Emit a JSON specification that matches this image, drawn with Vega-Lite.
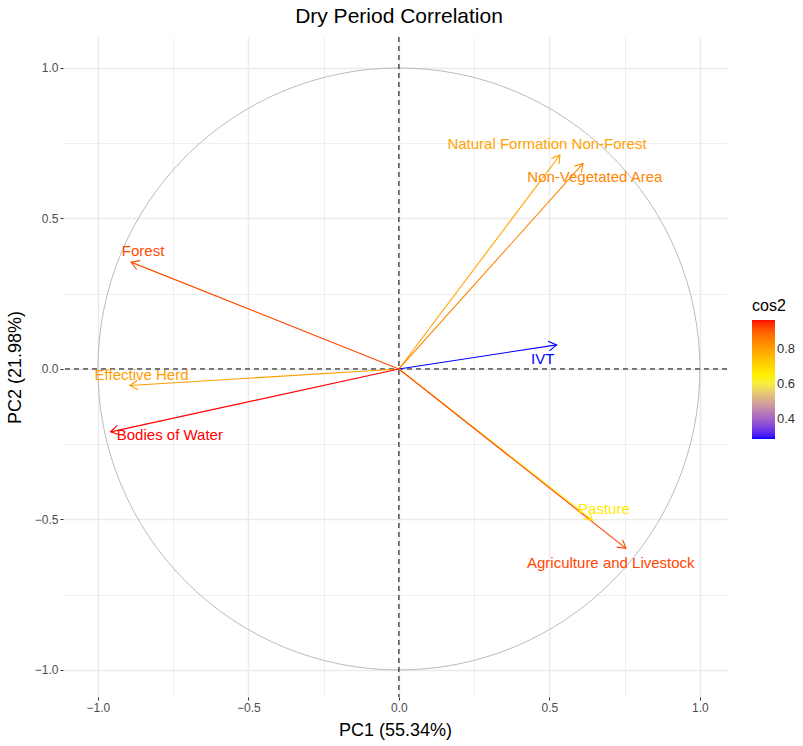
{
  "$schema": "https://vega.github.io/schema/vega-lite/v6.json",
  "autosize": "none",
  "width": 664,
  "height": 660,
  "padding": {"left": 63, "top": 37, "right": 76, "bottom": 49},
  "background": "white",
  "title": {"text": "Dry Period Correlation", "fontSize": 21, "font": "Liberation Sans", "fontWeight": "normal", "color": "black", "anchor": "middle", "offset": 10, "dx": 4},
  "config": {
    "view": {"stroke": null},
    "font": "Liberation Sans",
    "legend": {
      "orient": "none", "legendX": 689, "legendY": 261,
      "gradientLength": 119, "gradientThickness": 23, "gradientStrokeWidth": 0,
      "titleFontSize": 16, "titleFontWeight": "normal", "titleColor": "black", "titleFont": "Liberation Sans", "titlePadding": 6,
      "labelFontSize": 13, "labelColor": "#333333", "labelFont": "Liberation Sans", "labelOffset": 8
    }
  },
  "resolve": {"legend": {"color": "independent"}},
  "datasets": {
    "vars": [
      {"name": "Forest", "x": -0.890, "y": 0.355, "cos2": 0.918, "lx": -0.85, "ly": 0.392},
      {"name": "Effective Herd", "x": -0.894, "y": -0.055, "cos2": 0.802, "lx": -0.855, "ly": -0.02},
      {"name": "Bodies of Water", "x": -0.958, "y": -0.209, "cos2": 0.963, "lx": -0.761, "ly": -0.219},
      {"name": "Natural Formation Non-Forest", "x": 0.535, "y": 0.711, "cos2": 0.792, "lx": 0.492, "ly": 0.748},
      {"name": "Non-Vegetated Area", "x": 0.612, "y": 0.683, "cos2": 0.841, "lx": 0.651, "ly": 0.638},
      {"name": "IVT", "x": 0.524, "y": 0.080, "cos2": 0.285, "lx": 0.478, "ly": 0.033},
      {"name": "Pasture", "x": 0.643, "y": -0.502, "cos2": 0.665, "lx": 0.681, "ly": -0.465},
      {"name": "Agriculture and Livestock", "x": 0.754, "y": -0.596, "cos2": 0.924, "lx": 0.704, "ly": -0.644}
    ]
  },
  "layer": [
    {
      "data": {"values": [{"o": 0}]},
      "mark": {"type": "point", "shape": "circle", "filled": false, "size": 362404, "stroke": "#BBBBBB", "strokeWidth": 1, "opacity": 1},
      "encoding": {
        "x": {"field": "o", "type": "quantitative", "scale": {"domain": [-1.116, 1.09], "nice": false, "zero": false}, "title": "PC1 (55.34%)",
          "axis": {
            "titlePadding": 8,
            "domain": false, "grid": true, "gridColor": "#EBEBEB",
            "gridWidth": {"condition": {"test": "abs(datum.value % 0.5) < 0.001", "value": 1.5}, "value": 0.8},
            "tickColor": "#333333", "tickSize": 3, "tickWidth": 1,
            "tickOpacity": {"condition": {"test": "abs(datum.value % 0.5) < 0.001", "value": 1}, "value": 0},
            "labelColor": "#4D4D4D", "labelFontSize": 12, "labelFont": "Liberation Sans", "labelOverlap": false, "labelFlush": false,
            "titleFont": "Liberation Sans", "titleFontWeight": "normal", "titleColor": "black", "titleFontSize": 18,
            "values": [-1, -0.75, -0.5, -0.25, 0, 0.25, 0.5, 0.75, 1],
            "labelExpr": "abs(datum.value % 0.5) < 0.001 ? format(datum.value, '.1f') : ''"
          }},
        "y": {"field": "o", "type": "quantitative", "scale": {"domain": [-1.09, 1.103], "nice": false, "zero": false}, "title": "PC2 (21.98%)",
          "axis": {
            "titlePadding": 10,
            "domain": false, "grid": true, "gridColor": "#EBEBEB",
            "gridWidth": {"condition": {"test": "abs(datum.value % 0.5) < 0.001", "value": 1.5}, "value": 0.8},
            "tickColor": "#333333", "tickSize": 3, "tickWidth": 1,
            "tickOpacity": {"condition": {"test": "abs(datum.value % 0.5) < 0.001", "value": 1}, "value": 0},
            "labelColor": "#4D4D4D", "labelFontSize": 12, "labelFont": "Liberation Sans", "labelOverlap": false, "labelFlush": false,
            "titleFont": "Liberation Sans", "titleFontWeight": "normal", "titleColor": "black", "titleFontSize": 18,
            "values": [-1, -0.75, -0.5, -0.25, 0, 0.25, 0.5, 0.75, 1],
            "labelExpr": "abs(datum.value % 0.5) < 0.001 ? format(datum.value, '.1f') : ''"
          }}
      }
    },
    {
      "data": {"values": [{"o": 0}]},
      "mark": {"type": "rule", "color": "black", "strokeDash": [5, 4], "strokeWidth": 1},
      "encoding": {"x": {"field": "o", "type": "quantitative"}}
    },
    {
      "data": {"values": [{"o": 0}]},
      "mark": {"type": "rule", "color": "black", "strokeDash": [5, 4], "strokeWidth": 1},
      "encoding": {"y": {"field": "o", "type": "quantitative"}}
    },
    {
      "data": {"name": "vars"},
      "transform": [{"calculate": "0", "as": "o"}],
      "mark": {"type": "rule", "strokeWidth": 1.1},
      "encoding": {
        "x": {"field": "o", "type": "quantitative"},
        "y": {"field": "o", "type": "quantitative"},
        "x2": {"field": "x"},
        "y2": {"field": "y"},
        "color": {"field": "cos2", "type": "quantitative", "title": "cos2",
          "scale": {"range": ["blue", "yellow", "red"], "interpolate": "lab", "zero": false, "nice": false},
          "legend": null}
      }
    },
    {
      "data": {"name": "vars"},
      "transform": [{"calculate": "atan2(-datum.y, datum.x) * 180 / PI", "as": "ang"}],
      "mark": {"type": "point", "shape": "M-1,-0.6L0,0L-1,0.6", "filled": false, "size": 256, "strokeWidth": 1.1, "opacity": 1},
      "encoding": {
        "x": {"field": "x", "type": "quantitative"},
        "y": {"field": "y", "type": "quantitative"},
        "angle": {"field": "ang", "type": "quantitative", "scale": null},
        "color": {"field": "cos2", "type": "quantitative", "title": "cos2", "legend": null}
      }
    },
    {
      "data": {"name": "vars"},
      "mark": {"type": "text", "fontSize": 15, "font": "Liberation Sans", "align": "center", "baseline": "middle"},
      "encoding": {
        "x": {"field": "lx", "type": "quantitative"},
        "y": {"field": "ly", "type": "quantitative"},
        "text": {"field": "name"},
        "color": {"field": "cos2", "type": "quantitative", "title": "cos2",
          "legend": {"type": "gradient", "values": [0.4, 0.6, 0.8], "titleFontWeight": "normal", "titleFontSize": 16}}
      }
    }
  ]
}
